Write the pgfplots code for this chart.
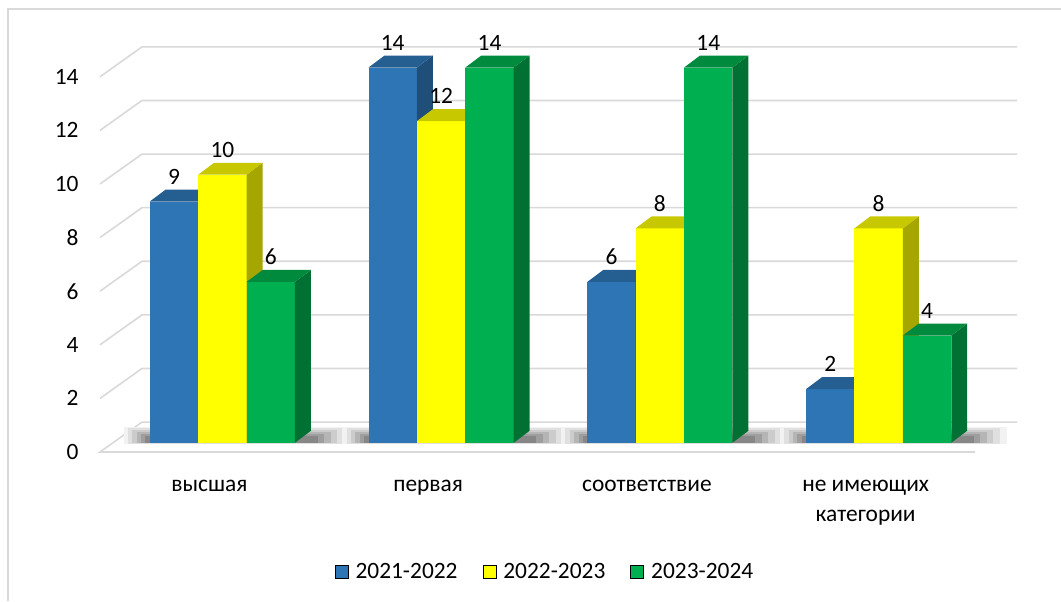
\documentclass[border=0pt]{standalone}
\usepackage{pgfplots}
\pgfplotsset{compat=1.18}
\usepackage{pgfplotstable}
\usepackage{fontspec}
\setmainfont{Carlito}
\newcommand\cf{\fontsize{11.7}{14.8}\selectfont}
\definecolor{blueF}{HTML}{2E75B6}
\definecolor{blueT}{HTML}{255E91}
\definecolor{blueS}{HTML}{1F4E79}
\definecolor{yelF}{HTML}{FFFF00}
\definecolor{yelT}{HTML}{C8C800}
\definecolor{yelS}{HTML}{A6A600}
\definecolor{grnF}{HTML}{00B050}
\definecolor{grnT}{HTML}{008A3E}
\definecolor{grnS}{HTML}{007033}
\definecolor{gridc}{HTML}{D9D9D9}

\pgfplotstableread{
g v
0 9
1 14
2 6
3 2
}\dataA
\pgfplotstableread{
g v
0 10
1 12
2 8
3 8
}\dataB
\pgfplotstableread{
g v
0 6
1 14
2 14
3 4
}\dataC

% 3D bar: #1 table, #2 row, #3 offset in group, #4 front, #5 side, #6 top
\newcommand{\tdbar}[6]{%
 \pgfplotstablegetelem{#2}{v}\of{#1}\let\val\pgfplotsretval
 \pgfplotstablegetelem{#2}{g}\of{#1}\let\grp\pgfplotsretval
 \pgfmathsetmacro\La{\grp+#3}%
 \pgfmathsetmacro\Ra{\La+0.2213}%
 \pgfmathsetmacro\Lb{\La+0.0731}%
 \pgfmathsetmacro\Rb{\Ra+0.0731}%
 \pgfmathsetmacro\Yv{\val+0.346}%
 \pgfmathsetmacro\Yw{\val+0.793}%
 \edef\tmp{%
  \noexpand\addplot[fill=#4,draw=none,forget plot] coordinates {(\La,0.346)(\Ra,0.346)(\Ra,\Yv)(\La,\Yv)} -- cycle;
  \noexpand\addplot[fill=#5,draw=none,forget plot] coordinates {(\Ra,0.346)(\Rb,0.793)(\Rb,\Yw)(\Ra,\Yv)} -- cycle;
  \noexpand\addplot[fill=#6,draw=none,forget plot] coordinates {(\La,\Yv)(\Ra,\Yv)(\Rb,\Yw)(\Lb,\Yw)} -- cycle;
 }\tmp}

% soft floor shadow layer (opaque grey): #1 group, #2 left ext, #3 right ext, #4 y1, #5 y2, #6 darkness
\newcommand{\shad}[6]{%
 \pgfmathsetmacro\sA{#1+0.2275-#2}%
 \pgfmathsetmacro\sB{#1+0.9645+#3}%
 \edef\tmp{%
  \noexpand\addplot[draw=none,fill=black!#6,forget plot] coordinates {(\sA,#4)(\sB,#4)(\sB,#5)(\sA,#5)} -- cycle;
 }\tmp}
\newcommand{\grpshadow}[1]{%
 \shad{#1}{0.12}{0.18}{0.30}{0.95}{5}%
 \shad{#1}{0.10}{0.15}{0.31}{0.88}{12}%
 \shad{#1}{0.08}{0.12}{0.32}{0.81}{20}%
 \shad{#1}{0.06}{0.09}{0.33}{0.74}{29}%
 \shad{#1}{0.04}{0.06}{0.34}{0.67}{38}%
 \shad{#1}{0.02}{0.03}{0.35}{0.60}{47}%
}

\begin{document}
\begin{tikzpicture}
\begin{axis}[
 at={(0pt,0pt)}, anchor=south west,
 x=109.375pt, y=13.4pt,
 xmin=0, xmax=4.2, ymin=0, ymax=15.2,
 clip=false,
 axis line style={draw=none},
 tick style={draw=none}, major tick length=0pt,
 /pgf/number format/assume math mode=true,
 tick label style={font=\cf, text=black},
 xtick={0.5,1.5,2.5,3.5},
 xticklabels={высшая,первая,соответствие,{\begin{tabular}[t]{@{}c@{}}не имеющих\\категории\end{tabular}}},
 xticklabel style={anchor=base, inner sep=0pt, yshift=-19.75pt},
 ytick={0,2,4,6,8,10,12,14},
 yticklabel style={anchor=east, inner sep=0pt, xshift=-10.5pt},
 legend image code/.code={\fill[#1] (0pt,-3.25pt) rectangle (6.5pt,3.25pt); \path (8.5pt,0pt);},
 legend style={draw=none, fill=none, at={(0.4849,-0.2946)}, anchor=center,
   legend columns=3, font=\cf, nodes={inner sep=1.5pt},
   /tikz/every even column/.append style={column sep=11pt}},
]
% grid: front-left diagonal + back horizontal
\addplot[gridc, line width=0.8pt, forget plot] coordinates {(4,0)(0,0)(0.192,1.117)(4.192,1.117)};
\addplot[gridc, line width=0.8pt, forget plot] coordinates {(0,2)(0.192,3.117)(4.192,3.117)};
\addplot[gridc, line width=0.8pt, forget plot] coordinates {(0,4)(0.192,5.117)(4.192,5.117)};
\addplot[gridc, line width=0.8pt, forget plot] coordinates {(0,6)(0.192,7.117)(4.192,7.117)};
\addplot[gridc, line width=0.8pt, forget plot] coordinates {(0,8)(0.192,9.117)(4.192,9.117)};
\addplot[gridc, line width=0.8pt, forget plot] coordinates {(0,10)(0.192,11.117)(4.192,11.117)};
\addplot[gridc, line width=0.8pt, forget plot] coordinates {(0,12)(0.192,13.117)(4.192,13.117)};
\addplot[gridc, line width=0.8pt, forget plot] coordinates {(0,14)(0.192,15.117)(4.192,15.117)};

\grpshadow{0}\grpshadow{1}\grpshadow{2}\grpshadow{3}

\tdbar{\dataA}{0}{0.2275}{blueF}{blueS}{blueT}
\tdbar{\dataB}{0}{0.4488}{yelF}{yelS}{yelT}
\tdbar{\dataC}{0}{0.6701}{grnF}{grnS}{grnT}
\tdbar{\dataA}{1}{0.2275}{blueF}{blueS}{blueT}
\tdbar{\dataB}{1}{0.4488}{yelF}{yelS}{yelT}
\tdbar{\dataC}{1}{0.6701}{grnF}{grnS}{grnT}
\tdbar{\dataA}{2}{0.2275}{blueF}{blueS}{blueT}
\tdbar{\dataB}{2}{0.4488}{yelF}{yelS}{yelT}
\tdbar{\dataC}{2}{0.6701}{grnF}{grnS}{grnT}
\tdbar{\dataA}{3}{0.2275}{blueF}{blueS}{blueT}
\tdbar{\dataB}{3}{0.4488}{yelF}{yelS}{yelT}
\tdbar{\dataC}{3}{0.6701}{grnF}{grnS}{grnT}

% data labels
\addplot[draw=none, forget plot, nodes near coords, point meta=explicit,
  nodes near coords align={center},
  every node near coord/.append style={font=\cf, text=black, inner sep=0pt}]
  table[x expr=\thisrow{g}+0.3382, y expr=\thisrow{v}+1.28, meta=v] {\dataA};
\addplot[draw=none, forget plot, nodes near coords, point meta=explicit,
  nodes near coords align={center},
  every node near coord/.append style={font=\cf, text=black, inner sep=0pt}]
  table[x expr=\thisrow{g}+0.5595, y expr=\thisrow{v}+1.28, meta=v] {\dataB};
\addplot[draw=none, forget plot, nodes near coords, point meta=explicit,
  nodes near coords align={center},
  every node near coord/.append style={font=\cf, text=black, inner sep=0pt}]
  table[x expr=\thisrow{g}+0.7808, y expr=\thisrow{v}+1.28, meta=v] {\dataC};

\addlegendimage{fill=blueF}\addlegendentry{2021-2022}
\addlegendimage{fill=yelF}\addlegendentry{2022-2023}
\addlegendimage{fill=grnF}\addlegendentry{2023-2024}
\end{axis}
\draw[gridc, line width=1pt] (-46pt,-74.5pt) -- (-46pt,221.5pt) -- (480.5pt,221.5pt);
\pgfresetboundingbox
\useasboundingbox (-50pt,-74.5pt) rectangle (480.5pt,226pt);
\end{tikzpicture}
\end{document}
